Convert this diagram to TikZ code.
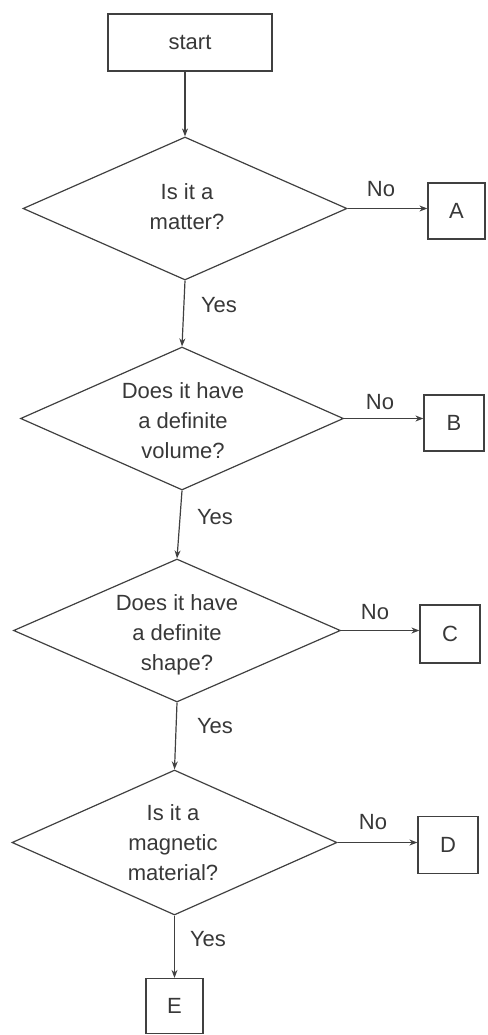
\documentclass[tikz,border=0pt]{standalone}
\usepackage{fontspec}
\setmainfont{Liberation Sans}
\usetikzlibrary{shapes.geometric,arrows.meta}
\definecolor{ink}{gray}{0.25}
\definecolor{txt}{gray}{0.22}
\begin{document}
\begin{tikzpicture}[x=1pt,y=-1pt,
  every node/.style={font=\fontsize{22}{30}\selectfont, text=txt},
  boxnode/.style={draw=ink, line width=1.2pt, rectangle, inner sep=0pt},
  dianode/.style={draw=ink, line width=1.2pt, diamond, inner sep=0pt, aspect=2.27},
  qtext/.style={align=center, inner sep=0pt},
  lbl/.style={inner sep=0pt},
  conn/.style={draw=ink, line width=1.2pt, -{Stealth[length=8pt,width=6pt]}}
]
\useasboundingbox (0,0) rectangle (487,1035);

% boxes
\node[boxnode, minimum width=164pt, minimum height=57pt] (start) at (190,42.5) {start};
\node[boxnode, minimum width=57pt, minimum height=56pt] (A) at (456.5,211) {A};
\node[boxnode, minimum width=60pt, minimum height=56pt] (B) at (454,423) {B};
\node[boxnode, minimum width=60pt, minimum height=58pt] (C) at (450,634) {C};
\node[boxnode, minimum width=60pt, minimum height=57pt] (D) at (448,845) {D};
\node[boxnode, minimum width=57pt, minimum height=55pt] (E) at (174.5,1006) {E};

% diamonds
\node[dianode, minimum width=324pt, minimum height=143pt] (d1) at (185,208.5) {};
\node[dianode, minimum width=323pt, minimum height=143pt] (d2) at (182,418.5) {};
\node[dianode, minimum width=327pt, minimum height=143pt] (d3) at (177,630.5) {};
\node[dianode, minimum width=325pt, minimum height=145pt] (d4) at (174.5,842.5) {};

\node[qtext] (t1) at (187,207) {Is it a\\matter?};
\node[qtext] (t2) at (183,421) {Does it have\\a definite\\volume?};
\node[qtext] (t3) at (177,635) {Does it have\\a definite\\shape?};
\node[qtext] (t4) at (173,843) {Is it a\\magnetic\\material?};

% connectors
\draw[conn] (start.south -| d1.north) -- (d1.north);
\draw[conn] (d1.east) -- (d1.east -| A.west);
\draw[conn] (d1.south) -- (d2.north);
\draw[conn] (d2.east) -- (d2.east -| B.west);
\draw[conn] (d2.south) -- (d3.north);
\draw[conn] (d3.east) -- (d3.east -| C.west);
\draw[conn] (d3.south) -- (d4.north);
\draw[conn] (d4.east) -- (d4.east -| D.west);
\draw[conn] (d4.south) -- (d4.south |- E.north);

% labels
\node[lbl] (n1) at (381,189) {No};
\node[lbl] (n2) at (380,402) {No};
\node[lbl] (n3) at (375,612) {No};
\node[lbl] (n4) at (373,822) {No};
\node[lbl] (y1) at (219,305) {Yes};
\node[lbl] (y2) at (215,517) {Yes};
\node[lbl] (y3) at (215,726) {Yes};
\node[lbl] (y4) at (208,939) {Yes};
\end{tikzpicture}
\end{document}
